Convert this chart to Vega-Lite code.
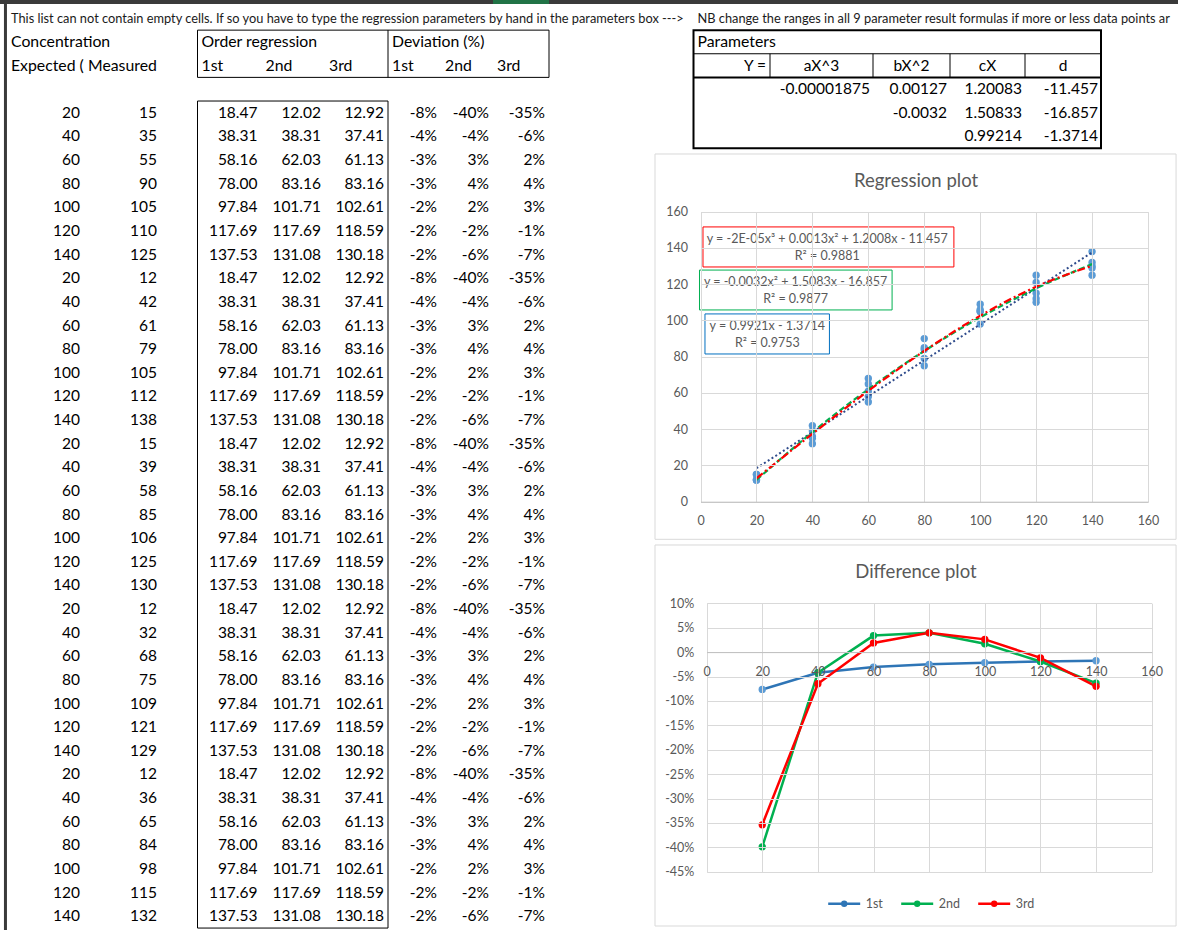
{
  "$schema": "https://vega.github.io/schema/vega-lite/v6.json",
  "width": 1178,
  "height": 930,
  "autosize": {"type": "none"},
  "padding": 0,
  "background": "#ffffff",
  "config": {
    "view": {"stroke": null},
    "font": "Lato",
    "locale": {"number": {"decimal": ".", "thousands": ",", "grouping": [3], "currency": ["$", ""], "minus": "-"}},
    "axis": {"labelFont": "Lato", "labelColor": "#595959", "labelFontSize": 12, "gridColor": "#d9d9d9", "tickSize": 0, "ticks": false, "domain": false},
    "legend": {"labelFont": "Lato"},
    "text": {"font": "Lato"}
  },
  "datasets": {
    "sheet": [
      {"row": 1, "expected": 20, "measured": 15, "fit1": 18.47, "fit2": 12.02, "fit3": 12.92, "dev1": -0.0765, "dev2": -0.399, "dev3": -0.354},
      {"row": 2, "expected": 40, "measured": 35, "fit1": 38.31, "fit2": 38.31, "fit3": 37.41, "dev1": -0.04225, "dev2": -0.04225, "dev3": -0.06475},
      {"row": 3, "expected": 60, "measured": 55, "fit1": 58.16, "fit2": 62.03, "fit3": 61.13, "dev1": -0.03067, "dev2": 0.03383, "dev3": 0.01883},
      {"row": 4, "expected": 80, "measured": 90, "fit1": 78.0, "fit2": 83.16, "fit3": 83.16, "dev1": -0.025, "dev2": 0.0395, "dev3": 0.0395},
      {"row": 5, "expected": 100, "measured": 105, "fit1": 97.84, "fit2": 101.71, "fit3": 102.61, "dev1": -0.0216, "dev2": 0.0171, "dev3": 0.0261},
      {"row": 6, "expected": 120, "measured": 110, "fit1": 117.69, "fit2": 117.69, "fit3": 118.59, "dev1": -0.01925, "dev2": -0.01925, "dev3": -0.01175},
      {"row": 7, "expected": 140, "measured": 125, "fit1": 137.53, "fit2": 131.08, "fit3": 130.18, "dev1": -0.01764, "dev2": -0.06371, "dev3": -0.07014},
      {"row": 8, "expected": 20, "measured": 12, "fit1": 18.47, "fit2": 12.02, "fit3": 12.92, "dev1": -0.0765, "dev2": -0.399, "dev3": -0.354},
      {"row": 9, "expected": 40, "measured": 42, "fit1": 38.31, "fit2": 38.31, "fit3": 37.41, "dev1": -0.04225, "dev2": -0.04225, "dev3": -0.06475},
      {"row": 10, "expected": 60, "measured": 61, "fit1": 58.16, "fit2": 62.03, "fit3": 61.13, "dev1": -0.03067, "dev2": 0.03383, "dev3": 0.01883},
      {"row": 11, "expected": 80, "measured": 79, "fit1": 78.0, "fit2": 83.16, "fit3": 83.16, "dev1": -0.025, "dev2": 0.0395, "dev3": 0.0395},
      {"row": 12, "expected": 100, "measured": 105, "fit1": 97.84, "fit2": 101.71, "fit3": 102.61, "dev1": -0.0216, "dev2": 0.0171, "dev3": 0.0261},
      {"row": 13, "expected": 120, "measured": 112, "fit1": 117.69, "fit2": 117.69, "fit3": 118.59, "dev1": -0.01925, "dev2": -0.01925, "dev3": -0.01175},
      {"row": 14, "expected": 140, "measured": 138, "fit1": 137.53, "fit2": 131.08, "fit3": 130.18, "dev1": -0.01764, "dev2": -0.06371, "dev3": -0.07014},
      {"row": 15, "expected": 20, "measured": 15, "fit1": 18.47, "fit2": 12.02, "fit3": 12.92, "dev1": -0.0765, "dev2": -0.399, "dev3": -0.354},
      {"row": 16, "expected": 40, "measured": 39, "fit1": 38.31, "fit2": 38.31, "fit3": 37.41, "dev1": -0.04225, "dev2": -0.04225, "dev3": -0.06475},
      {"row": 17, "expected": 60, "measured": 58, "fit1": 58.16, "fit2": 62.03, "fit3": 61.13, "dev1": -0.03067, "dev2": 0.03383, "dev3": 0.01883},
      {"row": 18, "expected": 80, "measured": 85, "fit1": 78.0, "fit2": 83.16, "fit3": 83.16, "dev1": -0.025, "dev2": 0.0395, "dev3": 0.0395},
      {"row": 19, "expected": 100, "measured": 106, "fit1": 97.84, "fit2": 101.71, "fit3": 102.61, "dev1": -0.0216, "dev2": 0.0171, "dev3": 0.0261},
      {"row": 20, "expected": 120, "measured": 125, "fit1": 117.69, "fit2": 117.69, "fit3": 118.59, "dev1": -0.01925, "dev2": -0.01925, "dev3": -0.01175},
      {"row": 21, "expected": 140, "measured": 130, "fit1": 137.53, "fit2": 131.08, "fit3": 130.18, "dev1": -0.01764, "dev2": -0.06371, "dev3": -0.07014},
      {"row": 22, "expected": 20, "measured": 12, "fit1": 18.47, "fit2": 12.02, "fit3": 12.92, "dev1": -0.0765, "dev2": -0.399, "dev3": -0.354},
      {"row": 23, "expected": 40, "measured": 32, "fit1": 38.31, "fit2": 38.31, "fit3": 37.41, "dev1": -0.04225, "dev2": -0.04225, "dev3": -0.06475},
      {"row": 24, "expected": 60, "measured": 68, "fit1": 58.16, "fit2": 62.03, "fit3": 61.13, "dev1": -0.03067, "dev2": 0.03383, "dev3": 0.01883},
      {"row": 25, "expected": 80, "measured": 75, "fit1": 78.0, "fit2": 83.16, "fit3": 83.16, "dev1": -0.025, "dev2": 0.0395, "dev3": 0.0395},
      {"row": 26, "expected": 100, "measured": 109, "fit1": 97.84, "fit2": 101.71, "fit3": 102.61, "dev1": -0.0216, "dev2": 0.0171, "dev3": 0.0261},
      {"row": 27, "expected": 120, "measured": 121, "fit1": 117.69, "fit2": 117.69, "fit3": 118.59, "dev1": -0.01925, "dev2": -0.01925, "dev3": -0.01175},
      {"row": 28, "expected": 140, "measured": 129, "fit1": 137.53, "fit2": 131.08, "fit3": 130.18, "dev1": -0.01764, "dev2": -0.06371, "dev3": -0.07014},
      {"row": 29, "expected": 20, "measured": 12, "fit1": 18.47, "fit2": 12.02, "fit3": 12.92, "dev1": -0.0765, "dev2": -0.399, "dev3": -0.354},
      {"row": 30, "expected": 40, "measured": 36, "fit1": 38.31, "fit2": 38.31, "fit3": 37.41, "dev1": -0.04225, "dev2": -0.04225, "dev3": -0.06475},
      {"row": 31, "expected": 60, "measured": 65, "fit1": 58.16, "fit2": 62.03, "fit3": 61.13, "dev1": -0.03067, "dev2": 0.03383, "dev3": 0.01883},
      {"row": 32, "expected": 80, "measured": 84, "fit1": 78.0, "fit2": 83.16, "fit3": 83.16, "dev1": -0.025, "dev2": 0.0395, "dev3": 0.0395},
      {"row": 33, "expected": 100, "measured": 98, "fit1": 97.84, "fit2": 101.71, "fit3": 102.61, "dev1": -0.0216, "dev2": 0.0171, "dev3": 0.0261},
      {"row": 34, "expected": 120, "measured": 115, "fit1": 117.69, "fit2": 117.69, "fit3": 118.59, "dev1": -0.01925, "dev2": -0.01925, "dev3": -0.01175},
      {"row": 35, "expected": 140, "measured": 132, "fit1": 137.53, "fit2": 131.08, "fit3": 130.18, "dev1": -0.01764, "dev2": -0.06371, "dev3": -0.07014}
    ],
    "params": [
      {"row": 0, "a": -0.00001875, "b": 0.00127, "c": 1.20083, "d": -11.457},
      {"row": 1, "b": -0.0032, "c": 1.50833, "d": -16.857},
      {"row": 2, "c": 0.99214, "d": -1.3714}
    ],
    "diff": [
      {"x": 20, "series": "1st", "dev": -0.0765},
      {"x": 40, "series": "1st", "dev": -0.04225},
      {"x": 60, "series": "1st", "dev": -0.03067},
      {"x": 80, "series": "1st", "dev": -0.025},
      {"x": 100, "series": "1st", "dev": -0.0216},
      {"x": 120, "series": "1st", "dev": -0.01925},
      {"x": 140, "series": "1st", "dev": -0.01764},
      {"x": 20, "series": "2nd", "dev": -0.399},
      {"x": 40, "series": "2nd", "dev": -0.04225},
      {"x": 60, "series": "2nd", "dev": 0.03383},
      {"x": 80, "series": "2nd", "dev": 0.0395},
      {"x": 100, "series": "2nd", "dev": 0.0171},
      {"x": 120, "series": "2nd", "dev": -0.01925},
      {"x": 140, "series": "2nd", "dev": -0.06371},
      {"x": 20, "series": "3rd", "dev": -0.354},
      {"x": 40, "series": "3rd", "dev": -0.06475},
      {"x": 60, "series": "3rd", "dev": 0.01883},
      {"x": 80, "series": "3rd", "dev": 0.0395},
      {"x": 100, "series": "3rd", "dev": 0.0261},
      {"x": 120, "series": "3rd", "dev": -0.01175},
      {"x": 140, "series": "3rd", "dev": -0.07014}
    ]
  },
  "resolve": {
    "scale": {"x": "independent", "y": "independent", "color": "independent", "fill": "independent"},
    "axis": {"x": "independent", "y": "independent"}
  },
  "layer": [
    {
      "layer": [
        {
          "data": {"name": "sheet"},
          "mark": {"type": "text", "align": "right", "baseline": "middle", "dx": -4, "fontSize": 15.5, "color": "#000000"},
          "encoding": {
            "x": {"datum": 1, "type": "quantitative",
              "scale": {"type": "linear", "domain": [0,1,2,3,4,5,6,7,8,9,10,11,12,13,14,15,16,17,18,19], "range": [7,84,161,197.5,261.5,325,388,441,493,549,570,608,655,693.5,770,873,950,1025,1101,1180], "nice": false, "zero": false},
              "axis": {"orient": "top", "grid": true, "values": [0,1,2,3,4,5,6,7,8,9,10,11,12,13,14,15,16,17,18], "labels": false, "ticks": false, "domain": false, "title": null, "zindex": 0, "gridColor": "#dadada"}},
            "y": {"field": "row", "type": "quantitative",
              "scale": {"type": "linear", "domain": [-3.775, 35.582], "range": [0, 930], "nice": false, "zero": false},
              "axis": {"orient": "left", "grid": true, "values": [-3.5,-2.5,-1.5,-0.5,0.5,1.5,2.5,3.5,4.5,5.5,6.5,7.5,8.5,9.5,10.5,11.5,12.5,13.5,14.5,15.5,16.5,17.5,18.5,19.5,20.5,21.5,22.5,23.5,24.5,25.5,26.5,27.5,28.5,29.5,30.5,31.5,32.5,33.5,34.5,35.5], "labels": false, "ticks": false, "domain": false, "title": null, "zindex": 0, "gridColor": "#dadada"}},
            "text": {"field": "expected", "type": "nominal"}
          }
        },
        {
          "data": {"name": "sheet"},
          "mark": {"type": "text", "align": "right", "baseline": "middle", "dx": -4, "fontSize": 15.5, "color": "#000000"},
          "encoding": {
            "x": {"datum": 2, "type": "quantitative", "axis": null},
            "y": {"field": "row", "type": "quantitative", "axis": null},
            "text": {"field": "measured", "type": "nominal"}
          }
        },
        {
          "data": {"name": "sheet"},
          "mark": {"type": "text", "align": "right", "baseline": "middle", "dx": -4, "fontSize": 15.5, "color": "#000000"},
          "encoding": {
            "x": {"datum": 4, "type": "quantitative", "axis": null},
            "y": {"field": "row", "type": "quantitative", "axis": null},
            "text": {"field": "fit1", "type": "quantitative", "format": ".2f"}
          }
        },
        {
          "data": {"name": "sheet"},
          "mark": {"type": "text", "align": "right", "baseline": "middle", "dx": -4, "fontSize": 15.5, "color": "#000000"},
          "encoding": {
            "x": {"datum": 5, "type": "quantitative", "axis": null},
            "y": {"field": "row", "type": "quantitative", "axis": null},
            "text": {"field": "fit2", "type": "quantitative", "format": ".2f"}
          }
        },
        {
          "data": {"name": "sheet"},
          "mark": {"type": "text", "align": "right", "baseline": "middle", "dx": -4, "fontSize": 15.5, "color": "#000000"},
          "encoding": {
            "x": {"datum": 6, "type": "quantitative", "axis": null},
            "y": {"field": "row", "type": "quantitative", "axis": null},
            "text": {"field": "fit3", "type": "quantitative", "format": ".2f"}
          }
        },
        {
          "data": {"name": "sheet"},
          "mark": {"type": "text", "align": "right", "baseline": "middle", "dx": -4, "fontSize": 15.5, "color": "#000000"},
          "encoding": {
            "x": {"datum": 7, "type": "quantitative", "axis": null},
            "y": {"field": "row", "type": "quantitative", "axis": null},
            "text": {"field": "dev1", "type": "quantitative", "format": ".0%"}
          }
        },
        {
          "data": {"name": "sheet"},
          "mark": {"type": "text", "align": "right", "baseline": "middle", "dx": -4, "fontSize": 15.5, "color": "#000000"},
          "encoding": {
            "x": {"datum": 8, "type": "quantitative", "axis": null},
            "y": {"field": "row", "type": "quantitative", "axis": null},
            "text": {"field": "dev2", "type": "quantitative", "format": ".0%"}
          }
        },
        {
          "data": {"name": "sheet"},
          "mark": {"type": "text", "align": "right", "baseline": "middle", "dx": -4, "fontSize": 15.5, "color": "#000000"},
          "encoding": {
            "x": {"datum": 9, "type": "quantitative", "axis": null},
            "y": {"field": "row", "type": "quantitative", "axis": null},
            "text": {"field": "dev3", "type": "quantitative", "format": ".0%"}
          }
        },
        {
          "data": {"values": [
            {"row": -2, "col": 0, "label": "Concentration"},
            {"row": -2, "col": 3, "label": "Order regression"},
            {"row": -2, "col": 6, "label": "Deviation (%)"},
            {"row": -2, "col": 13, "label": "Parameters"},
            {"row": -1, "col": 0, "label": "Expected ("},
            {"row": -1, "col": 1, "label": "Measured"},
            {"row": -1, "col": 3, "label": "1st"},
            {"row": -1, "col": 4, "label": "2nd"},
            {"row": -1, "col": 5, "label": "3rd"},
            {"row": -1, "col": 6, "label": "1st"},
            {"row": -1, "col": 7, "label": "2nd"},
            {"row": -1, "col": 8, "label": "3rd"}
          ]},
          "mark": {"type": "text", "align": "left", "baseline": "middle", "dx": 4, "fontSize": 15.8, "color": "#000000"},
          "encoding": {
            "x": {"field": "col", "type": "quantitative", "axis": null},
            "y": {"field": "row", "type": "quantitative", "axis": null},
            "text": {"field": "label", "type": "nominal"}
          }
        },
        {
          "data": {"values": [
            {"row": -3, "col": 0, "label": "This list can not contain empty cells. If so you have to type the regression parameters by hand in the parameters box --->"}
          ]},
          "mark": {"type": "text", "align": "left", "baseline": "middle", "dx": 4, "dy": 1, "fontSize": 12.8, "color": "#1a1a1a"},
          "encoding": {
            "x": {"field": "col", "type": "quantitative", "axis": null},
            "y": {"field": "row", "type": "quantitative", "axis": null},
            "text": {"field": "label", "type": "nominal"}
          }
        },
        {
          "data": {"values": [
            {"row": -3, "col": 13, "label": "NB change the ranges in all 9 parameter result formulas if more or less data points are used"}
          ]},
          "mark": {"type": "text", "align": "left", "baseline": "middle", "dx": 4, "dy": 1, "fontSize": 12.8, "color": "#1a1a1a", "limit": 480, "ellipsis": " "},
          "encoding": {
            "x": {"field": "col", "type": "quantitative", "axis": null},
            "y": {"field": "row", "type": "quantitative", "axis": null},
            "text": {"field": "label", "type": "nominal"}
          }
        },
        {
          "data": {"values": [{"row": -1, "col": 14, "label": "Y ="}]},
          "mark": {"type": "text", "align": "right", "baseline": "middle", "dx": -4, "fontSize": 15.5, "color": "#000000"},
          "encoding": {
            "x": {"field": "col", "type": "quantitative", "axis": null},
            "y": {"field": "row", "type": "quantitative", "axis": null},
            "text": {"field": "label", "type": "nominal"}
          }
        },
        {
          "data": {"values": [{}]},
          "mark": {"type": "text", "align": "center", "baseline": "middle", "fontSize": 15.5, "color": "#000000", "text": "aX^3"},
          "encoding": {"x": {"datum": 14.5, "type": "quantitative", "axis": null}, "y": {"datum": -1, "type": "quantitative", "axis": null}}
        },
        {
          "data": {"values": [{}]},
          "mark": {"type": "text", "align": "center", "baseline": "middle", "fontSize": 15.5, "color": "#000000", "text": "bX^2"},
          "encoding": {"x": {"datum": 15.5, "type": "quantitative", "axis": null}, "y": {"datum": -1, "type": "quantitative", "axis": null}}
        },
        {
          "data": {"values": [{}]},
          "mark": {"type": "text", "align": "center", "baseline": "middle", "fontSize": 15.5, "color": "#000000", "text": "cX"},
          "encoding": {"x": {"datum": 16.5, "type": "quantitative", "axis": null}, "y": {"datum": -1, "type": "quantitative", "axis": null}}
        },
        {
          "data": {"values": [{}]},
          "mark": {"type": "text", "align": "center", "baseline": "middle", "fontSize": 15.5, "color": "#000000", "text": "d"},
          "encoding": {"x": {"datum": 17.5, "type": "quantitative", "axis": null}, "y": {"datum": -1, "type": "quantitative", "axis": null}}
        },
        {
          "data": {"name": "params"},
          "transform": [{"filter": {"field": "a", "valid": true}}],
          "mark": {"type": "text", "align": "right", "baseline": "middle", "dx": -3, "fontSize": 15.5, "color": "#000000"},
          "encoding": {"x": {"datum": 15, "type": "quantitative", "axis": null}, "y": {"field": "row", "type": "quantitative", "axis": null}, "text": {"field": "a", "type": "nominal"}}
        },
        {
          "data": {"name": "params"},
          "transform": [{"filter": {"field": "b", "valid": true}}],
          "mark": {"type": "text", "align": "right", "baseline": "middle", "dx": -3, "fontSize": 15.5, "color": "#000000"},
          "encoding": {"x": {"datum": 16, "type": "quantitative", "axis": null}, "y": {"field": "row", "type": "quantitative", "axis": null}, "text": {"field": "b", "type": "nominal"}}
        },
        {
          "data": {"name": "params"},
          "transform": [{"filter": {"field": "c", "valid": true}}],
          "mark": {"type": "text", "align": "right", "baseline": "middle", "dx": -3, "fontSize": 15.5, "color": "#000000"},
          "encoding": {"x": {"datum": 17, "type": "quantitative", "axis": null}, "y": {"field": "row", "type": "quantitative", "axis": null}, "text": {"field": "c", "type": "nominal"}}
        },
        {
          "data": {"name": "params"},
          "transform": [{"filter": {"field": "d", "valid": true}}],
          "mark": {"type": "text", "align": "right", "baseline": "middle", "dx": -3, "fontSize": 15.5, "color": "#000000"},
          "encoding": {"x": {"datum": 18, "type": "quantitative", "axis": null}, "y": {"field": "row", "type": "quantitative", "axis": null}, "text": {"field": "d", "type": "nominal"}}
        },
        {
          "data": {"values": [{}]},
          "mark": {"type": "rule", "color": "#3a3a3a", "strokeWidth": 3},
          "encoding": {"x": {"datum": -0.02, "type": "quantitative", "axis": null}, "y": {"datum": -3.775, "type": "quantitative", "axis": null}, "y2": {"datum": 35.582}}
        },
        {
          "data": {"values": [{}]},
          "mark": {"type": "rule", "color": "#3a3a3a", "strokeWidth": 4},
          "encoding": {"y": {"datum": -3.69, "type": "quantitative", "axis": null}, "x": {"datum": -0.1, "type": "quantitative", "axis": null}, "x2": {"datum": 19}}
        },
        {
          "data": {"values": [{}]},
          "mark": {"type": "rule", "color": "#217346", "strokeWidth": 4},
          "encoding": {"y": {"datum": -3.69, "type": "quantitative", "axis": null}, "x": {"datum": 8, "type": "quantitative", "axis": null}, "x2": {"datum": 9}}
        },
        {
          "data": {"values": [{}]},
          "mark": {"type": "rect", "filled": false, "color": "#000000", "strokeWidth": 1},
          "encoding": {"x": {"datum": 3, "type": "quantitative", "axis": null}, "x2": {"datum": 9}, "y": {"datum": -2.5, "type": "quantitative", "axis": null}, "y2": {"datum": -0.5}}
        },
        {
          "data": {"values": [{}]},
          "mark": {"type": "rule", "color": "#000000", "strokeWidth": 1},
          "encoding": {"x": {"datum": 6, "type": "quantitative", "axis": null}, "y": {"datum": -2.5, "type": "quantitative", "axis": null}, "y2": {"datum": -0.5}}
        },
        {
          "data": {"values": [{}]},
          "mark": {"type": "rect", "filled": false, "color": "#000000", "strokeWidth": 1},
          "encoding": {"x": {"datum": 3, "type": "quantitative", "axis": null}, "x2": {"datum": 6}, "y": {"datum": 0.5, "type": "quantitative", "axis": null}, "y2": {"datum": 35.5}}
        },
        {
          "data": {"values": [{}]},
          "mark": {"type": "rect", "filled": false, "color": "#000000", "strokeWidth": 2},
          "encoding": {"x": {"datum": 13, "type": "quantitative", "axis": null}, "x2": {"datum": 18}, "y": {"datum": -2.5, "type": "quantitative", "axis": null}, "y2": {"datum": 2.5}}
        },
        {
          "data": {"values": [{}]},
          "mark": {"type": "rule", "color": "#000000", "strokeWidth": 2},
          "encoding": {"y": {"datum": -0.5, "type": "quantitative", "axis": null}, "x": {"datum": 13, "type": "quantitative", "axis": null}, "x2": {"datum": 18}}
        },
        {
          "data": {"values": [{}]},
          "mark": {"type": "rule", "color": "#000000", "strokeWidth": 1},
          "encoding": {"y": {"datum": -1.5, "type": "quantitative", "axis": null}, "x": {"datum": 13, "type": "quantitative", "axis": null}, "x2": {"datum": 18}}
        },
        {
          "data": {"values": [{"col": 14}, {"col": 15}, {"col": 16}, {"col": 17}]},
          "mark": {"type": "rule", "color": "#000000", "strokeWidth": 1},
          "encoding": {"x": {"field": "col", "type": "quantitative", "axis": null}, "y": {"datum": -1.5, "type": "quantitative", "axis": null}, "y2": {"datum": -0.5}}
        },
        {
          "data": {"values": [{}]},
          "mark": {"type": "rect", "fill": "#ffffff", "stroke": "#d9d9d9", "strokeWidth": 1},
          "encoding": {"x": {"datum": 12, "type": "quantitative", "axis": null}, "x2": {"datum": 18.95}, "y": {"datum": 2.742, "type": "quantitative", "axis": null}, "y2": {"datum": 19.048}}
        },
        {
          "data": {"values": [{}]},
          "mark": {"type": "rect", "fill": "#ffffff", "stroke": "#d9d9d9", "strokeWidth": 1},
          "encoding": {"x": {"datum": 12, "type": "quantitative", "axis": null}, "x2": {"datum": 18.95}, "y": {"datum": 19.289, "type": "quantitative", "axis": null}, "y2": {"datum": 35.413}}
        }
      ]
    },
    {
      "layer": [
        {
          "data": {"name": "sheet"},
          "mark": {"type": "point", "filled": true, "color": "#5b9bd5", "size": 54, "opacity": 1},
          "encoding": {
            "x": {"field": "expected", "type": "quantitative",
              "scale": {"domain": [0, 160], "range": [700.5, 1148], "nice": false, "zero": false},
              "axis": {"orient": "top", "grid": true, "labels": false, "ticks": false, "domain": false, "values": [0,20,40,60,80,100,120,140,160], "title": null, "zindex": 1}},
            "y": {"field": "measured", "type": "quantitative",
              "scale": {"domain": [0, 160], "range": [501.7, 211.7], "nice": false, "zero": false},
              "axis": {"orient": "left", "offset": 0, "values": [0,20,40,60,80,100,120,140,160], "grid": true, "domain": false, "ticks": false, "tickSize": 0, "labelPadding": -687.5, "labelFlush": false, "labelOverlap": false, "labelFontSize": 12.5, "title": null, "zindex": 1}}
          }
        },
        {
          "data": {"name": "sheet"},
          "transform": [{"filter": "datum.row <= 7"}],
          "mark": {"type": "line", "color": "#2f4b8c", "strokeWidth": 2, "strokeDash": [2, 2.5], "interpolate": "monotone"},
          "encoding": {
            "x": {"field": "expected", "type": "quantitative",
              "axis": {"orient": "bottom", "offset": -428.3, "values": [0,20,40,60,80,100,120,140,160], "grid": false, "domain": true, "domainColor": "#bfbfbf", "ticks": false, "tickSize": 0, "labelPadding": 13, "labelFlush": false, "labelOverlap": false, "labelFontSize": 12.5, "title": null, "zindex": 1}},
            "y": {"field": "fit1", "type": "quantitative", "axis": null}
          }
        },
        {
          "data": {"name": "sheet"},
          "transform": [{"filter": "datum.row <= 7"}],
          "mark": {"type": "line", "color": "#00b050", "strokeWidth": 2.25, "strokeDash": [6, 3], "interpolate": "monotone"},
          "encoding": {
            "x": {"field": "expected", "type": "quantitative", "axis": null},
            "y": {"field": "fit2", "type": "quantitative", "axis": null}
          }
        },
        {
          "data": {"name": "sheet"},
          "transform": [{"filter": "datum.row <= 7"}],
          "mark": {"type": "line", "color": "#ff0000", "strokeWidth": 2.25, "strokeDash": [8, 3, 2, 3], "interpolate": "monotone"},
          "encoding": {
            "x": {"field": "expected", "type": "quantitative", "axis": null},
            "y": {"field": "fit3", "type": "quantitative", "axis": null}
          }
        },
        {
          "data": {"values": [{}]},
          "mark": {"type": "rect", "filled": false, "color": "#ff0000", "strokeWidth": 1},
          "encoding": {"x": {"datum": 0.89, "type": "quantitative", "axis": null}, "x2": {"datum": 90.6}, "y": {"datum": 151.6, "type": "quantitative", "axis": null}, "y2": {"datum": 129.5}}
        },
        {
          "data": {"values": [{}]},
          "mark": {"type": "rect", "filled": false, "color": "#00b050", "strokeWidth": 1},
          "encoding": {"x": {"datum": -0.36, "type": "quantitative", "axis": null}, "x2": {"datum": 68.5}, "y": {"datum": 127.8, "type": "quantitative", "axis": null}, "y2": {"datum": 105.8}}
        },
        {
          "data": {"values": [{}]},
          "mark": {"type": "rect", "filled": false, "color": "#0070c0", "strokeWidth": 1},
          "encoding": {"x": {"datum": 1.6, "type": "quantitative", "axis": null}, "x2": {"datum": 46.1}, "y": {"datum": 103.6, "type": "quantitative", "axis": null}, "y2": {"datum": 81.5}}
        },
        {
          "data": {"values": [{}]},
          "mark": {"type": "text", "align": "center", "baseline": "middle", "fontSize": 12.5, "lineHeight": 17.5, "color": "#595959", "text": ["y = -2E-05x³ + 0.0013x² + 1.2008x - 11.457", "R² = 0.9881"]},
          "encoding": {"x": {"datum": 45.3, "type": "quantitative", "axis": null}, "y": {"datum": 145.2, "type": "quantitative", "axis": null}}
        },
        {
          "data": {"values": [{}]},
          "mark": {"type": "text", "align": "center", "baseline": "middle", "fontSize": 12.5, "lineHeight": 17.5, "color": "#595959", "text": ["y = -0.0032x² + 1.5083x - 16.857", "R² = 0.9877"]},
          "encoding": {"x": {"datum": 34.0, "type": "quantitative", "axis": null}, "y": {"datum": 121.4, "type": "quantitative", "axis": null}}
        },
        {
          "data": {"values": [{}]},
          "mark": {"type": "text", "align": "center", "baseline": "middle", "fontSize": 12.5, "lineHeight": 17.5, "color": "#595959", "text": ["y = 0.9921x - 1.3714", "R² = 0.9753"]},
          "encoding": {"x": {"datum": 23.9, "type": "quantitative", "axis": null}, "y": {"datum": 97.1, "type": "quantitative", "axis": null}}
        },
        {
          "data": {"values": [{}]},
          "mark": {"type": "text", "align": "center", "baseline": "middle", "fontSize": 18.5, "color": "#595959", "text": "Regression plot"},
          "encoding": {"x": {"datum": 77.05, "type": "quantitative", "axis": null}, "y": {"datum": 177.1, "type": "quantitative", "axis": null}}
        }
      ],
      "resolve": {"axis": {"x": "independent", "y": "independent"}}
    },
    {
      "layer": [
        {
          "data": {"name": "diff"},
          "mark": {"type": "line", "strokeWidth": 2.5},
          "encoding": {
            "x": {"field": "x", "type": "quantitative",
              "scale": {"domain": [0, 160], "range": [706.6, 1151.7], "nice": false, "zero": false},
              "axis": {"orient": "bottom", "offset": -277.9, "values": [0,20,40,60,80,100,120,140,160], "grid": false, "domain": true, "domainColor": "#bfbfbf", "ticks": false, "tickSize": 0, "labelPadding": 13, "labelFlush": false, "labelOverlap": false, "labelFontSize": 12.5, "title": null, "zindex": 1}},
            "y": {"field": "dev", "type": "quantitative",
              "scale": {"domain": [-0.45, 0.1], "range": [871.7, 603.3], "nice": false, "zero": false},
              "axis": {"orient": "left", "offset": 0, "values": [0.1,0.05,0,-0.05,-0.1,-0.15,-0.2,-0.25,-0.3,-0.35,-0.4,-0.45], "format": ".0%", "grid": true, "domain": false, "ticks": false, "tickSize": 0, "labelPadding": -693.8, "labelFlush": false, "labelOverlap": false, "labelFontSize": 12.5, "title": null, "zindex": 1}},
            "color": {"field": "series", "type": "nominal",
              "scale": {"domain": ["1st", "2nd", "3rd"], "range": ["#2e75b6", "#00b050", "#ff0000"]},
              "legend": {"orient": "none", "legendX": 826.7, "legendY": 886, "direction": "horizontal", "title": null, "padding": 0,
                "symbolType": "M-1,0H1M-0.12,0A0.12,0.12 0 1,1 0.12,0A0.12,0.12 0 1,1 -0.12,0",
                "symbolSize": 1024, "symbolStrokeWidth": 2.5, "labelFontSize": 12.5, "labelColor": "#595959", "labelOffset": 4, "columnPadding": 12}}
          }
        },
        {
          "data": {"name": "diff"},
          "mark": {"type": "point", "filled": true, "size": 54, "opacity": 1},
          "encoding": {
            "x": {"field": "x", "type": "quantitative",
              "axis": {"orient": "top", "grid": true, "labels": false, "ticks": false, "domain": false, "values": [0,20,40,60,80,100,120,140,160], "title": null, "zindex": 1}},
            "y": {"field": "dev", "type": "quantitative", "axis": null},
            "fill": {"field": "series", "type": "nominal",
              "scale": {"domain": ["1st", "2nd", "3rd"], "range": ["#5b9bd5", "#00b050", "#ff0000"]},
              "legend": null}
          }
        },
        {
          "data": {"values": [{}]},
          "mark": {"type": "text", "align": "center", "baseline": "middle", "fontSize": 18.5, "color": "#595959", "text": "Difference plot"},
          "encoding": {"x": {"datum": 75.27, "type": "quantitative", "axis": null}, "y": {"datum": 0.1648, "type": "quantitative", "axis": null}}
        }
      ],
      "resolve": {"axis": {"x": "independent", "y": "independent"}}
    }
  ]
}
